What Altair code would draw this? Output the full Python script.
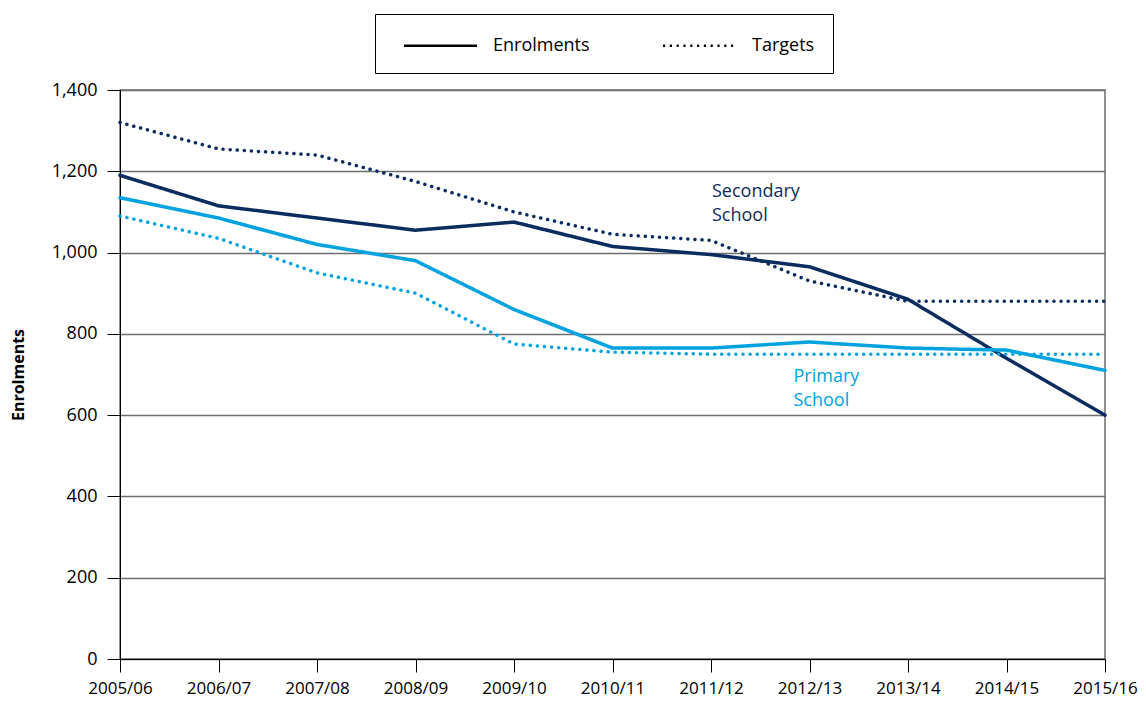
import altair as alt
import pandas as pd

years = ["2005/06", "2006/07", "2007/08", "2008/09", "2009/10", "2010/11",
         "2011/12", "2012/13", "2013/14", "2014/15", "2015/16"]
secondary_enrol = [1190, 1115, 1085, 1055, 1075, 1015, 995, 965, 885, 740, 600]
secondary_target = [1320, 1255, 1240, 1175, 1100, 1045, 1030, 930, 880, 880, 880]
primary_enrol = [1135, 1085, 1020, 980, 860, 765, 765, 780, 765, 760, 710]
primary_target = [1090, 1035, 950, 900, 775, 755, 750, 750, 750, 750, 750]

label_text = [["Secondary", "School"], ["Primary", "School"]]
label_school = ["Secondary", "Primary"]
label_year = ["2011/12", "2012/13"]
label_value = [1172, 716]
label_dx = [1, -16]

NAVY = "#0b2c5f"
BLUE = "#00a3e0"
FONT = "Open Sans"

rows = []
for school, typ, vals in [("Secondary", "Enrolments", secondary_enrol),
                          ("Secondary", "Targets", secondary_target),
                          ("Primary", "Enrolments", primary_enrol),
                          ("Primary", "Targets", primary_target)]:
    for y, v in zip(years, vals):
        rows.append({"year": y, "value": v, "school": school, "type": typ,
                     "series": school + typ})
df = pd.DataFrame(rows)

lab = pd.DataFrame({"text": label_text, "school": label_school,
                    "year": label_year, "value": label_value, "dx": label_dx})

x_enc = alt.X("year:N", sort=years, title=None,
              scale=alt.Scale(type="point", padding=0),
              axis=alt.Axis(labelAngle=0, tickSize=13, labelPadding=8,
                            domainColor="black", tickColor="black",
                            labelFontSize=17, labelFont=FONT, labelColor="black",
                            grid=False))
y_enc = alt.Y("value:Q", title="Enrolments",
              scale=alt.Scale(domain=[0, 1400], nice=False),
              axis=alt.Axis(values=[0, 200, 400, 600, 800, 1000, 1200, 1400],
                            format=",.0f", tickSize=13, labelPadding=10,
                            domainColor="black", tickColor="black",
                            gridColor="#6e6e6e", gridWidth=1.5,
                            labelFontSize=18, labelFont=FONT, labelColor="black",
                            titleFont=FONT, titleFontSize=16, titleFontWeight="bold",
                            titleColor="black", titlePadding=25))

color_scale = alt.Scale(domain=["Secondary", "Primary"], range=[NAVY, BLUE])

lines = alt.Chart(df).mark_line(strokeWidth=3.5, strokeCap="round").encode(
    x=x_enc,
    y=y_enc,
    color=alt.Color("school:N", scale=color_scale, legend=None),
    strokeDash=alt.StrokeDash(
        "type:N",
        scale=alt.Scale(domain=["Enrolments", "Targets"], range=[[1, 0], [0.1, 7]]),
        legend=None),
    detail="series:N",
)

legend_layer = alt.Chart(df).transform_filter("datum.value < 0").mark_line(
    strokeWidth=2.5).encode(
    x=alt.X("year:N", sort=years, scale=alt.Scale(type="point", padding=0)),
    y=alt.Y("value:Q"),
    strokeDash=alt.StrokeDash(
        "type:N",
        scale=alt.Scale(domain=["Enrolments", "Targets"], range=[[1, 0], [2.2, 4.6]]),
        legend=alt.Legend(title=None, orient="none", legendX=255, legendY=-76,
                          direction="horizontal", strokeColor="black",
                          padding=18, symbolType="M-3,0H3", symbolSize=592,
                          symbolOffset=34, symbolFillColor="transparent",
                          symbolStrokeColor="black", symbolStrokeWidth=2.5,
                          labelFontSize=18, labelFont=FONT, labelColor="black",
                          labelOffset=39, columnPadding=62)),
)

texts = alt.Chart(lab).mark_text(align="left", baseline="top", fontSize=18,
                                 font=FONT, lineHeight=24).encode(
    x=alt.X("year:N", sort=years, scale=alt.Scale(type="point", padding=0)),
    y=alt.Y("value:Q"),
    text="text",
    color=alt.Color("school:N", scale=color_scale, legend=None),
    xOffset=alt.XOffset("dx:Q", scale=None),
)

chart = alt.layer(lines, legend_layer, texts).resolve_scale(
    strokeDash="independent"
).properties(
    width=985, height=569,
    autosize=alt.AutoSizeParams(type="none"),
    padding={"left": 112, "top": 82, "right": 33, "bottom": 42},
).configure_view(stroke="#6e6e6e", strokeWidth=1.5)

chart.save("out.html", embed_options={"renderer": "svg", "actions": False})
